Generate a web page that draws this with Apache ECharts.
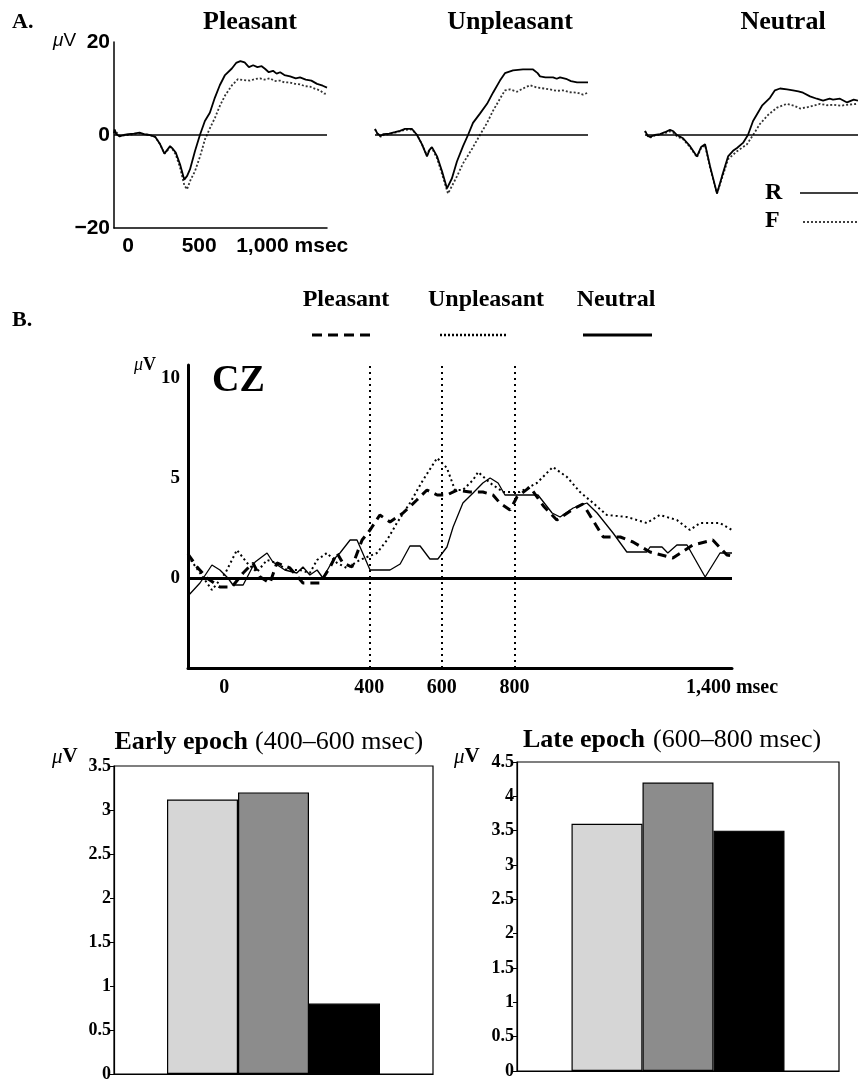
<!DOCTYPE html>
<html>
<head>
    <meta charset="utf-8">
    <title>ERP - Pleasant / Unpleasant / Neutral</title>
    <script src="https://cdn.jsdelivr.net/npm/echarts@6/dist/echarts.min.js"></script>
    <style>
        html, body { margin: 0; padding: 0; background: #fff; }
        #chart { width: 858px; height: 1083px; }
    </style>
</head>
<body>
    <div id="chart"></div>

    <script>
        // ---- panel A: grand averages, R (solid) vs F (dotted), [msec, µV]
        const aPleasantR = [[-100,0.4],[-95,1.2],[-85,0.2],[-60,-0.3],[-30,0],[0,0.2],[40,0.3],[80,0.5],[110,0.2],[150,0],[190,-0.4],[225,-2],[255,-4],[275,-3.2],[295,-2.4],[315,-3],[335,-3.8],[365,-6.3],[395,-9.6],[415,-8.8],[435,-7.4],[470,-3.5],[505,0],[540,3],[575,4.8],[610,8],[645,10.7],[680,12.8],[730,14.3],[760,15.5],[790,15.9],[820,15.6],[850,14.6],[880,15],[910,14.6],[940,14.8],[965,14.2],[990,13.5],[1020,13.8],[1045,13.2],[1070,13.5],[1100,12.9],[1140,12.6],[1180,12.2],[1210,12.4],[1250,11.9],[1290,11.7],[1330,11],[1370,10.6],[1400,10.2]];
        const aPleasantF = [[-100,0.3],[-90,0.8],[-60,-0.2],[0,0],[40,0.2],[80,0.4],[150,0],[190,-0.4],[225,-2],[255,-4],[275,-3.4],[295,-2.6],[315,-3.2],[335,-4.2],[365,-7],[395,-10.8],[414,-11.7],[440,-9.6],[470,-7.8],[506,-4.6],[541,-0.9],[576,1.5],[611,3.7],[646,6.3],[682,8.5],[731,10.7],[773,12],[810,11.8],[858,11.7],[890,12],[928,12.2],[960,11.9],[999,12.2],[1030,11.6],[1069,11.7],[1100,11.3],[1139,11.3],[1175,11],[1210,10.9],[1245,10.5],[1280,10.4],[1320,9.9],[1351,9.6],[1380,8.9],[1400,8.9]];
        const aUnpleasantR = [[-100,1.3],[-85,0.4],[-60,-0.2],[-40,0.2],[0,0.3],[40,0.6],[76,0.9],[111,1.3],[161,1.3],[196,0],[231,-2],[266,-4.6],[284,-3.2],[301,-2.6],[337,-4.6],[372,-7.8],[407,-11.5],[442,-9.3],[477,-5.7],[520,-2.4],[555,0],[590,2.6],[639,4.6],[689,6.7],[731,9.1],[780,11.7],[815,13.3],[872,13.9],[942,14.1],[1013,14.1],[1045,13.3],[1062,12.6],[1100,12.4],[1154,12.4],[1180,12.1],[1203,12.4],[1252,12],[1280,11.6],[1323,11.3],[1400,11.3]];
        const aUnpleasantF = [[-100,1.2],[-85,0.3],[-60,-0.4],[-40,0],[0,0.2],[40,0.5],[76,0.8],[111,1.1],[161,1.2],[196,0],[231,-2],[266,-4.4],[284,-3],[301,-2.8],[337,-5],[372,-8.4],[414,-12.6],[477,-8.9],[520,-6.1],[583,-3],[639,0],[689,2.6],[731,5.2],[780,7.8],[815,9.6],[851,9.8],[900,9.3],[942,10],[992,10.7],[1041,10.2],[1090,10],[1132,9.8],[1180,9.5],[1224,9.6],[1270,9.2],[1323,9.1],[1365,8.7],[1400,9.1]];
        const aNeutralR = [[-100,0.9],[-80,-0.2],[-65,-0.4],[-30,0],[6,0.2],[40,0.6],[76,1.1],[100,0.8],[125,0],[168,-0.7],[217,-2.4],[266,-4.6],[295,-2.6],[323,-2],[358,-6.7],[407,-12.6],[442,-8.9],[485,-4.6],[520,-3.4],[548,-2.8],[590,-1.7],[625,0],[661,3],[724,6.3],[780,8],[815,9.6],[851,10],[900,9.8],[942,9.6],[980,9.4],[1013,9.1],[1062,8.3],[1110,7.8],[1154,7.4],[1200,7.8],[1224,7.6],[1273,7.8],[1323,7],[1370,7.6],[1400,7.4]];
        const aNeutralF = [[-100,0.8],[-80,-0.3],[-60,-0.5],[-30,-0.1],[6,0.1],[40,0.4],[76,0.8],[100,0.5],[125,-0.3],[168,-0.9],[217,-2.6],[266,-4.8],[295,-2.8],[323,-2.2],[358,-7],[407,-12.6],[442,-9.3],[485,-5.2],[548,-3.5],[618,-2],[661,0],[710,2.4],[766,4.3],[830,5.9],[900,6.7],[950,6.3],[992,5.7],[1030,5.9],[1062,6.1],[1132,6.7],[1180,6.4],[1224,6.5],[1280,6.3],[1323,6.5],[1400,6.7]];
        const aTicksX = [0, 500, 1000];

        // ---- panel B: CZ difference waves
        const bPleasant = [[-100,1.2],[-75,0.55],[-48,0],[-12,-0.45],[21,-0.45],[52,0.25],[79,0.75],[99,0.05],[126,-0.25],[145,0.75],[181,0.5],[217,-0.25],[264,-0.25],[292,0.55],[311,1.25],[327,0.75],[352,0.55],[380,1.9],[402,2.4],[429,3.15],[457,2.8],[493,3.25],[531,3.9],[559,4.4],[587,4.15],[614,4.15],[642,4.4],[677,4.3],[713,4.3],[741,4.15],[760,3.75],[788,3.4],[807,4.05],[843,4.55],[880,3.6],[917,2.9],[962,3.45],[989,3.7],[1028,2.55],[1045,2.05],[1092,2.05],[1127,1.8],[1174,1.3],[1237,1.0],[1292,1.65],[1347,1.9],[1386,1.15],[1400,1.1]];
        const bUnpleasant = [[-100,1.1],[-67,0.25],[-34,-0.6],[3,0.25],[35,1.4],[63,0.75],[90,0.3],[118,0.9],[145,0.75],[173,0.4],[209,0.4],[236,0.25],[256,0.9],[283,1.25],[311,0.75],[338,0.5],[374,0.9],[421,1.25],[449,1.9],[476,2.75],[512,3.75],[548,4.9],[587,6.0],[614,5.5],[636,4.4],[658,4.4],[686,4.9],[700,5.3],[733,4.75],[769,4.3],[815,4.3],[862,4.75],[906,5.55],[945,5.05],[981,4.3],[1017,3.75],[1055,3.15],[1110,3.05],[1165,2.75],[1201,3.15],[1248,2.9],[1284,2.4],[1312,2.75],[1367,2.75],[1400,2.4]];
        const bNeutral = [[-100,-0.9],[-67,-0.25],[-34,0.65],[-12,0.4],[10,0],[24,-0.35],[52,-0.35],[85,0.8],[118,1.25],[134,0.8],[167,0.4],[200,0.25],[217,0.55],[236,0.15],[256,0.4],[272,0],[300,0.9],[319,1.25],[347,1.9],[366,1.9],[402,0.4],[457,0.4],[485,0.7],[512,1.6],[540,1.6],[567,0.95],[589,0.95],[614,1.55],[631,2.55],[658,3.75],[686,4.25],[713,4.75],[733,5.0],[755,4.75],[774,4.15],[865,4.15],[904,3.25],[926,3.05],[962,3.5],[1000,3.75],[1028,3.25],[1072,2.25],[1110,1.3],[1165,1.3],[1174,1.55],[1207,1.55],[1223,1.25],[1248,1.65],[1276,1.65],[1326,0.05],[1367,1.25],[1400,1.25]];
        const bTicksX = [0, 400, 600, 800, 1400];
        const bTicksY = [0, 5, 10];
        const epochMarks = [400, 600, 800];

        // ---- bar panels: mean amplitude per epoch
        const conditions = ['Pleasant', 'Unpleasant', 'Neutral'];
        const earlyValues = [3.12, 3.2, 0.8];
        const lateValues = [3.6, 4.2, 3.5];
        const barColors = ['#d6d6d6', '#8c8c8c', '#000000'];

        const SERIF = '"Liberation Serif", "Times New Roman", serif';
        const SANS = '"Liberation Sans", Arial, sans-serif';

        const chart = echarts.init(document.getElementById('chart'));

        function erpLine(data, grid, dotted, extra) {
            return Object.assign({
                type: 'line',
                xAxisIndex: grid,
                yAxisIndex: grid,
                data: data,
                showSymbol: false,
                silent: true,
                lineStyle: dotted
                    ? { color: '#333', width: 1.8, type: [2, 2] }
                    : { color: '#000', width: 1.8 }
            }, extra || {});
        }

        function zeroLine(width) {
            return {
                symbol: 'none', silent: true, label: { show: false },
                lineStyle: { color: '#000', type: 'solid', width: width },
                data: [{ yAxis: 0 }]
            };
        }

        const aLeft = [114, 375, 645];
        const grids = aLeft.map(l => ({ left: l, top: 42, width: 213, height: 186 }));
        grids.push({ left: 188, top: 365, width: 544, height: 303 });
        grids.push({ left: 114, top: 766, width: 319, height: 309, show: true, borderColor: '#000', borderWidth: 1.2 });
        grids.push({ left: 517, top: 762, width: 322, height: 309, show: true, borderColor: '#000', borderWidth: 1.2 });

        const xAxes = [0, 1, 2].map(i => ({
            gridIndex: i, type: 'value', min: -100, max: 1400,
            show: i === 0,
            axisLine: { show: true, onZero: false, lineStyle: { color: '#000', width: 1.5 } },
            axisTick: { show: false },
            splitLine: { show: false },
            axisLabel: {
                customValues: aTicksX, margin: 8, color: '#000',
                fontFamily: SANS, fontWeight: 'bold', fontSize: 21,
                formatter: v => v === 1000 ? '{m|1,000 msec}' : String(v),
                rich: { m: { fontFamily: SANS, fontWeight: 'bold', fontSize: 21, padding: [0, 0, 0, 44] } }
            }
        }));
        const yAxes = [0, 1, 2].map(i => ({
            gridIndex: i, type: 'value', min: -20, max: 20, interval: 20,
            show: i === 0,
            axisLine: { show: true, onZero: false, lineStyle: { color: '#000', width: 1.5 } },
            axisTick: { show: false },
            splitLine: { show: false },
            axisLabel: {
                margin: 4, color: '#000', fontFamily: SANS, fontWeight: 'bold', fontSize: 21,
                formatter: v => v < 0 ? '\u2212' + Math.abs(v) : String(v)
            }
        }));

        xAxes.push({
            gridIndex: 3, type: 'value', min: -100, max: 1400,
            axisLine: { show: true, onZero: false, lineStyle: { color: '#000', width: 3 } },
            axisTick: { show: false },
            splitLine: { show: false },
            axisLabel: {
                customValues: bTicksX, margin: 10, color: '#000',
                fontFamily: SERIF, fontWeight: 'bold', fontSize: 20,
                formatter: v => v === 1400 ? '1,400 msec' : String(v)
            }
        });
        yAxes.push({
            gridIndex: 3, type: 'value', min: -4.5, max: 10.65,
            axisLine: { show: true, onZero: false, lineStyle: { color: '#000', width: 3 } },
            axisTick: { show: false },
            splitLine: { show: false },
            axisLabel: {
                customValues: bTicksY, margin: 8, color: '#000',
                fontFamily: SERIF, fontWeight: 'bold', fontSize: 19
            }
        });

        [4, 5].forEach((g, k) => {
            xAxes.push({
                gridIndex: g, type: 'category', data: ['mean'],
                axisLine: { show: true, lineStyle: { color: '#000', width: 1.2 } },
                axisTick: { show: false },
                axisLabel: { show: false }
            });
            yAxes.push({
                gridIndex: g, type: 'value', min: 0, max: k === 0 ? 3.5 : 4.5, interval: 0.5,
                axisLine: { show: true, onZero: false, lineStyle: { color: '#000', width: 1.2 } },
                axisTick: { show: true, length: 4, lineStyle: { color: '#000' } },
                splitLine: { show: false },
                axisLabel: {
                    margin: 3, color: '#000', fontFamily: SERIF, fontWeight: 'bold', fontSize: 18,
                    formatter: v => String(v)
                }
            });
        });

        const series = [
            erpLine(aPleasantF, 0, true),
            erpLine(aPleasantR, 0, false, { markLine: zeroLine(1.5) }),
            erpLine(aUnpleasantF, 1, true),
            erpLine(aUnpleasantR, 1, false, { markLine: zeroLine(1.5) }),
            erpLine(aNeutralF, 2, true),
            erpLine(aNeutralR, 2, false, { markLine: zeroLine(1.5) }),
            {
                type: 'line', xAxisIndex: 3, yAxisIndex: 3, data: bPleasant,
                showSymbol: false, silent: true,
                lineStyle: { color: '#000', width: 3, type: [9, 6] }
            },
            {
                type: 'line', xAxisIndex: 3, yAxisIndex: 3, data: bUnpleasant,
                showSymbol: false, silent: true,
                lineStyle: { color: '#000', width: 2, type: [2, 3] }
            },
            {
                type: 'line', xAxisIndex: 3, yAxisIndex: 3, data: bNeutral,
                showSymbol: false, silent: true,
                lineStyle: { color: '#000', width: 1.3 },
                markLine: {
                    symbol: 'none', silent: true, label: { show: false },
                    data: epochMarks.map(v => ({ xAxis: v, lineStyle: { color: '#000', type: [2, 4], width: 2 } }))
                        .concat([{ yAxis: 0, lineStyle: { color: '#000', type: 'solid', width: 3 } }])
                }
            }
        ];

        [[earlyValues, 4], [lateValues, 5]].forEach(([vals, g]) => {
            conditions.forEach((name, i) => {
                series.push({
                    type: 'bar', name: name, xAxisIndex: g, yAxisIndex: g,
                    data: [vals[i]], barWidth: 71, barGap: '0%',
                    silent: true,
                    itemStyle: { color: barColors[i], borderColor: '#000', borderWidth: 1.2 }
                });
            });
        });

        function txt(text, x, y, font, align, extra) {
            return {
                type: 'text', x: x, y: y, silent: true,
                style: Object.assign({
                    text: text, font: font, fill: '#000',
                    textAlign: align || 'left', textVerticalAlign: 'middle'
                }, extra || {})
            };
        }
        function seg(x1, y1, x2, y2, width, dash) {
            return {
                type: 'line', silent: true,
                shape: { x1: x1, y1: y1, x2: x2, y2: y2 },
                style: { stroke: '#000', lineWidth: width, lineDash: dash || null }
            };
        }
        const uv = (x, y, size, font) => txt('{i|\u03bc}{n|V}', x, y, '', 'left', {
            rich: {
                i: { fontFamily: font, fontStyle: 'italic', fontSize: size, fill: '#000' },
                n: { fontFamily: font, fontWeight: font === SERIF ? 'bold' : 'normal', fontSize: size, fill: '#000' }
            }
        });

        const graphics = [
            txt('A.', 12, 22, 'bold 22px ' + SERIF),
            txt('Pleasant', 250, 22, 'bold 26px ' + SERIF, 'center'),
            txt('Unpleasant', 510, 22, 'bold 26px ' + SERIF, 'center'),
            txt('Neutral', 783, 22, 'bold 26px ' + SERIF, 'center'),
            uv(53, 41, 19, SANS),
            txt('R', 765, 193, 'bold 24px ' + SERIF),
            txt('F', 765, 221, 'bold 24px ' + SERIF),
            seg(800, 193, 858, 193, 1.5),
            seg(803, 222, 858, 222, 1.5, [2, 2]),

            txt('B.', 12, 320, 'bold 22px ' + SERIF),
            txt('Pleasant', 346, 300, 'bold 24px ' + SERIF, 'center'),
            txt('Unpleasant', 486, 300, 'bold 24px ' + SERIF, 'center'),
            txt('Neutral', 616, 300, 'bold 24px ' + SERIF, 'center'),
            seg(312, 335, 376, 335, 3, [10, 6]),
            seg(440, 335, 507, 335, 2.5, [2, 2]),
            seg(583, 335, 652, 335, 3),
            uv(134, 365, 18, SERIF),
            txt('CZ', 212, 381, 'bold 38px ' + SERIF),

            txt('Early epoch', 248, 742, 'bold 26px ' + SERIF, 'right'),
            txt('(400\u2013600 msec)', 255, 742, '26px ' + SERIF),
            uv(52, 757, 21, SERIF),
            txt('Late epoch', 645, 740, 'bold 26px ' + SERIF, 'right'),
            txt('(600\u2013800 msec)', 653, 740, '26px ' + SERIF),
            uv(454, 757, 21, SERIF)
        ];

        chart.setOption({
            animation: false,
            backgroundColor: '#fff',
            grid: grids,
            xAxis: xAxes,
            yAxis: yAxes,
            series: series,
            graphic: { elements: graphics }
        });

        window.addEventListener('resize', () => chart.resize());
    </script>
</body>
</html>
